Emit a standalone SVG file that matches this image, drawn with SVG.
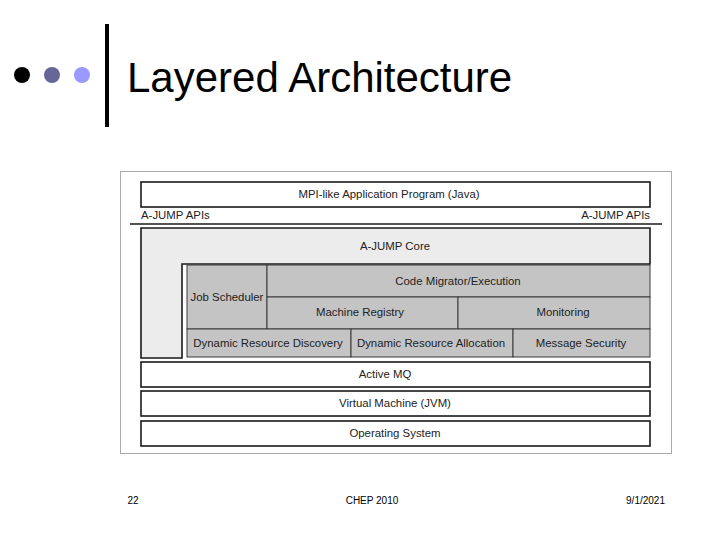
<svg xmlns="http://www.w3.org/2000/svg" width="720" height="540" viewBox="0 0 720 540">
<style>
.t{font-family:"Liberation Sans",Arial,sans-serif;font-size:11.4px;fill:#222;text-anchor:middle}
.box{fill:#fff;stroke:#1a1a1a;stroke-width:1.6}
.cell{fill:#c4c4c4;stroke:#3a3a3a;stroke-width:1}
.ft{font-family:"Liberation Sans",Arial,sans-serif;font-size:10px;fill:#000}
</style>
<rect width="720" height="540" fill="#fff"/>
<g id="header">
<circle cx="22" cy="75" r="8" fill="#000"/>
<circle cx="52" cy="75" r="8" fill="#666699"/>
<circle cx="82" cy="75" r="8" fill="#9999ff"/>
<rect x="105" y="24" width="4" height="103" fill="#000"/>
<text x="127" y="92" font-family="Liberation Sans, Arial, sans-serif" font-size="42" fill="#000">Layered Architecture</text>
</g>
<rect x="120.5" y="171.5" width="551" height="282" fill="#fff" stroke="#aaa" stroke-width="1"/>
<g id="mpi"><rect class="box" x="141" y="182" width="509" height="25"/><text class="t" x="389" y="198">MPI-like Application Program (Java)</text></g>
<g id="apis">
<line x1="130" y1="224" x2="662" y2="224" stroke="#1a1a1a" stroke-width="1.6"/>
<text class="t" x="141" y="219" style="text-anchor:start">A-JUMP APIs</text>
<text class="t" x="650" y="219" style="text-anchor:end">A-JUMP APIs</text>
</g>
<g id="core">
<polygon points="141,228 650,228 650,264 182,264 182,358 141,358" fill="#ececec" stroke="#1a1a1a" stroke-width="1.6"/>
<text class="t" x="395" y="250">A-JUMP Core</text>
<rect x="183" y="265" width="467" height="93" fill="#fff"/>
</g>
<g id="job-scheduler"><rect class="cell" x="187" y="265" width="80" height="64"/><text class="t" x="227" y="301">Job Scheduler</text></g>
<g id="code-migrator"><rect class="cell" x="267" y="265" width="383" height="32"/><text class="t" x="458" y="285">Code Migrator/Execution</text></g>
<g id="machine-registry"><rect class="cell" x="267" y="297" width="191" height="32"/><text class="t" x="360" y="316">Machine Registry</text></g>
<g id="monitoring"><rect class="cell" x="458" y="297" width="192" height="32"/><text class="t" x="563" y="316">Monitoring</text></g>
<g id="drd"><rect class="cell" x="187" y="329" width="164" height="28"/><text class="t" x="268" y="347">Dynamic Resource Discovery</text></g>
<g id="dra"><rect class="cell" x="351" y="329" width="162" height="28"/><text class="t" x="431" y="347">Dynamic Resource Allocation</text></g>
<g id="ms"><rect class="cell" x="513" y="329" width="137" height="28"/><text class="t" x="581" y="347">Message Security</text></g>
<g id="activemq"><rect class="box" x="141" y="362" width="509" height="25"/><text class="t" x="385" y="378">Active MQ</text></g>
<g id="jvm"><rect class="box" x="141" y="391" width="509" height="25"/><text class="t" x="395" y="407">Virtual Machine (JVM)</text></g>
<g id="os"><rect class="box" x="141" y="421" width="509" height="25"/><text class="t" x="395" y="437">Operating System</text></g>
<g id="connectors"></g>
<g id="footer">
<text class="ft" x="133" y="504" text-anchor="middle">22</text>
<text class="ft" x="372" y="504" text-anchor="middle">CHEP 2010</text>
<text class="ft" x="665" y="504" text-anchor="end">9/1/2021</text>
</g>
</svg>
